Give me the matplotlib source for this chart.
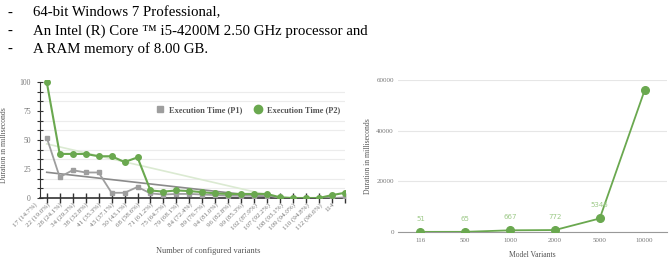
import numpy as np
import matplotlib.pyplot as plt
from matplotlib.lines import Line2D
from matplotlib.ticker import MultipleLocator
from matplotlib import transforms

plt.rcParams["font.family"] = ["Liberation Serif", "DejaVu Serif"]

# left chart: execution time per number of configured variants
variant_labels = ["17 (14.7%)", "22 (19.0%)", "28 (24.1%)", "34 (29.3%)", "38 (32.8%)",
                  "41 (35.3%)", "43 (37.1%)", "50 (43.1%)", "68 (58.6%)", "71 (61.2%)",
                  "75 (64.7%)", "79 (68.1%)", "84 (72.4%)", "89 (76.7%)", "94 (81.0%)",
                  "96 (82.8%)", "99 (85.3%)", "102 (87.9%)", "107 (92.2%)", "108 (93.1%)",
                  "109 (94.0%)", "110 (94.8%)", "112 (96.6%)", "114"]
time_p1 = [52, 18, 24, 22, 22, 4.5, 4.5, 9.5, 4, 3, 3.5, 3.5, 3, 2.5, 2, 2,
           2, 2, 0.3, 0, 0, 0, 0, 0.5]
time_p2 = [100, 38, 38, 38, 36, 36, 31, 35, 6.5, 5.5, 6.5, 6, 5, 4, 3.5, 3.5,
           3.5, 3.5, 0.5, 0, 0, 0, 2.5, 4.5]

# right chart: duration per model size
model_variants = ["116", "500", "1000", "2000", "5000", "10000"]
model_duration = [51, 65, 667, 772, 5346, 55900]

spec_lines = ["64-bit Windows 7 Professional,",
              "An Intel (R) Core \u2122 i5-4200M 2.50 GHz processor and",
              "A RAM memory of 8.00 GB."]

GREEN = "#6aa84f"
GRAY = "#9e9e9e"

fig = plt.figure(figsize=(6.7, 2.58), dpi=100)

for i, line in enumerate(spec_lines):
    y = 1 - (13 + 18 * i) / 258
    fig.text(8 / 670, y, "-", fontsize=10.7, va="center")
    fig.text(33 / 670, y, line, fontsize=10.7, va="center")

# ---- left chart
ax = fig.add_axes([40 / 670, 60 / 258, 305 / 670, 118.3 / 258])
x = np.arange(len(variant_labels))

for vals, col, tcol in [(time_p1, GRAY, "#8a8a8a"), (time_p2, GREEN, "#dbeAd2")]:
    k, b = np.polyfit(x, vals, 1)
    ax.plot(x, k * x + b, color=tcol, lw=1.2, zorder=1)

ax.plot(x, time_p1, color=GRAY, lw=1.3, marker="s", ms=3, zorder=3)
ax.plot(x, time_p2, color=GREEN, lw=1.5, marker="o", ms=4, zorder=4)

ax.set_xlim(-0.52, 22.07)
ax.set_ylim(0, 102)
ax.set_xticks(x)
ax.set_xticklabels([])
ax.yaxis.set_major_locator(MultipleLocator(25))
ax.yaxis.set_minor_locator(MultipleLocator(25 / 3))
ax.grid(which="minor", axis="y", color="#ececec", lw=0.8)
ax.set_axisbelow(True)
for s in ["top", "right"]:
    ax.spines[s].set_visible(False)
ax.spines["left"].set_bounds(0, 100)
ax.spines["left"].set_color("#333333")
ax.spines["bottom"].set_color("#333333")
ax.spines["bottom"].set_linewidth(1.2)
ax.tick_params(axis="x", direction="inout", length=7, width=1, color="#333333")
ax.tick_params(axis="y", which="both", direction="inout", length=5, width=0.8,
               color="#333333", labelsize=5.5, labelcolor="#777777", pad=4)

off = transforms.ScaledTranslation(-11 / 100, -6 / 100, fig.dpi_scale_trans)
trans = ax.get_xaxis_transform() + off
for xi, lab in zip(x, variant_labels):
    ax.text(xi, 0, lab, transform=trans, rotation=45, rotation_mode="anchor",
            ha="right", va="center", fontsize=5, color="#777777", clip_on=False)

ax.set_ylabel("Duration in milliseconds", fontsize=5.5, color="#555555")
ax.yaxis.set_label_coords(-0.105, 0.45)
ax.set_xlabel("Number of configured variants", fontsize=6, color="#555555")
ax.xaxis.set_label_coords(0.55, -0.41)

handles = [Line2D([], [], ls="none", marker="s", ms=4.5, color=GRAY),
           Line2D([], [], ls="none", marker="o", ms=6, color=GREEN)]
ax.legend(handles, ["Execution Time (P1)", "Execution Time (P2)"], ncol=2,
          loc="center right", bbox_to_anchor=(1.01, 0.745), frameon=False,
          prop={"size": 6, "weight": "bold"}, labelcolor="#555555",
          handletextpad=0.6, columnspacing=1.4, handlelength=1)

# ---- right chart
ax2 = fig.add_axes([398 / 670, 26 / 258, 269 / 670, 152 / 258])
xm = np.arange(len(model_variants))
ax2.plot(xm, model_duration, color=GREEN, lw=1.3, marker="o", ms=5.5, zorder=3)
for xi, v in zip(xm[:-1], model_duration[:-1]):
    ax2.annotate(str(v), (xi, v), xytext=(0, 8), textcoords="offset points",
                 ha="center", fontsize=5, color="#9cc987", family="DejaVu Sans")
ax2.set_xlim(-0.5, 5.5)
ax2.set_ylim(0, 60000)
ax2.set_yticks([0, 20000, 40000, 60000])
ax2.set_xticks(xm)
ax2.set_xticklabels(model_variants)
ax2.grid(axis="y", color="#e6e6e6", lw=0.8)
ax2.set_axisbelow(True)
for s in ["top", "right", "left"]:
    ax2.spines[s].set_visible(False)
ax2.spines["bottom"].set_color("#999999")
ax2.tick_params(length=0, labelsize=5, labelcolor="#777777", pad=4)
ax2.tick_params(axis="y", pad=3)
ax2.set_ylabel("Duration in milliseconds", fontsize=5.5, color="#555555", labelpad=3)
ax2.set_xlabel("Model Variants", fontsize=5.5, color="#555555", labelpad=6)

fig.savefig("out.png", dpi=100)
